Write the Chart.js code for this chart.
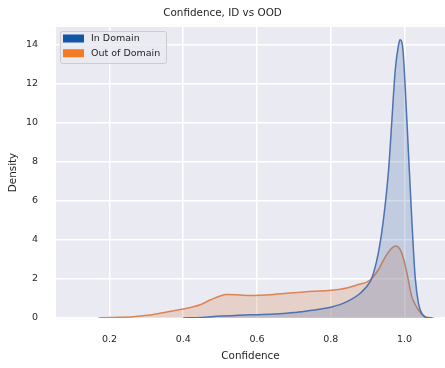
<!DOCTYPE html>
<html>
<head>
<meta charset="utf-8">
<script src="https://cdn.jsdelivr.net/npm/chart.js@4/dist/chart.umd.min.js"></script>
<style>
  html, body { margin: 0; padding: 0; background: #fff; }
  #wrap { width: 445px; height: 368px; position: relative; }
</style>
</head>
<body>
<div id="wrap"><canvas id="graph"></canvas></div>
<script>
// values
const xTicks = [0.2, 0.4, 0.6, 0.8, 1.0];
const yTicks = [0, 2, 4, 6, 8, 10, 12, 14];

const idX = [0.4, 0.45, 0.5, 0.55, 0.6, 0.65, 0.7, 0.735, 0.77, 0.8, 0.844, 0.88, 0.907, 0.916, 0.93, 0.943, 0.957, 0.966, 0.975, 0.984, 0.988, 0.996, 1.002, 1.011, 1.02, 1.029, 1.038, 1.047, 1.056, 1.065, 1.075];
const idY = [0, 0.03, 0.1, 0.14, 0.17, 0.2, 0.28, 0.36, 0.45, 0.55, 0.84, 1.27, 1.86, 2.29, 3.4, 5.03, 7.6, 10.15, 12.7, 14.0, 14.26, 13.74, 11.86, 8.44, 5.03, 2.12, 0.75, 0.24, 0.05, 0.01, 0];

const oodX = [0.17, 0.2, 0.265, 0.31, 0.356, 0.4, 0.446, 0.473, 0.5, 0.518, 0.554, 0.58, 0.645, 0.735, 0.826, 0.871, 0.907, 0.93, 0.943, 0.961, 0.977, 0.985, 0.993, 1.0, 1.007, 1.02, 1.029, 1.038, 1.047, 1.056, 1.065, 1.08];
const oodY = [0, 0.03, 0.07, 0.15, 0.31, 0.46, 0.68, 0.92, 1.13, 1.2, 1.18, 1.16, 1.21, 1.35, 1.47, 1.69, 1.95, 2.5, 2.97, 3.49, 3.69, 3.6, 3.32, 2.85, 2.29, 1.09, 0.7, 0.41, 0.2, 0.07, 0.02, 0];

const font = 'DejaVu Sans';

// legend drawn inside the plot area, seaborn style
const innerLegend = {
  id: 'innerLegend',
  afterDraw(chart) {
    const ctx = chart.ctx;
    const a = chart.chartArea;
    const x0 = a.left + 4, y0 = a.top + 4, w = 106, h = 32;
    ctx.save();
    ctx.beginPath();
    ctx.roundRect(x0 + 0.5, y0 + 0.5, w, h, 2);
    ctx.fillStyle = 'rgba(234,234,242,0.8)';
    ctx.fill();
    ctx.strokeStyle = '#cccccc';
    ctx.lineWidth = 1;
    ctx.stroke();
    ctx.font = '9.5px "' + font + '"';
    ctx.textBaseline = 'middle';
    chart.data.datasets.forEach((ds, i) => {
      const cy = y0 + 7.5 + i * 14.7;
      ctx.fillStyle = ds.legendColor;
      ctx.fillRect(x0 + 3, cy - 4, 21, 8);
      ctx.fillStyle = '#262626';
      ctx.fillText(ds.label, x0 + 31, cy);
    });
    ctx.restore();
  }
};

new Chart(document.getElementById('graph'), {
  type: 'line',
  data: {
    datasets: [
      {
        label: 'In Domain',
        data: idX.map((x, i) => ({x: x, y: idY[i]})),
        borderColor: '#4c72b0',
        backgroundColor: 'rgba(76,114,176,0.25)',
        legendColor: '#1155a5',
        fill: 'origin',
        borderWidth: 1.5,
        pointRadius: 0,
        cubicInterpolationMode: 'monotone'
      },
      {
        label: 'Out of Domain',
        data: oodX.map((x, i) => ({x: x, y: oodY[i]})),
        borderColor: '#dd8452',
        backgroundColor: 'rgba(221,132,82,0.25)',
        legendColor: '#f47a25',
        fill: 'origin',
        borderWidth: 1.5,
        pointRadius: 0,
        cubicInterpolationMode: 'monotone'
      }
    ]
  },
  options: {
    responsive: true,
    maintainAspectRatio: false,
    animation: false,
    layout: { padding: 0 },
    plugins: {
      legend: { display: false },
      tooltip: { enabled: false },
      title: {
        display: true,
        text: 'Confidence, ID vs OOD',
        color: '#262626',
        font: { family: font, size: 10.4, weight: 'normal' },
        padding: { top: 6.76, bottom: 7.76 }
      }
    },
    scales: {
      x: {
        type: 'linear',
        min: 0.055,
        max: 1.11,
        border: { display: false },
        grid: { color: '#ffffff', lineWidth: 1.5, drawTicks: false },
        ticks: {
          color: '#262626',
          padding: 15.6,
          font: { family: font, size: 9.5 },
          callback: v => v.toFixed(1)
        },
        afterBuildTicks: s => { s.ticks = xTicks.map(v => ({value: v})); },
        afterFit: s => { s.height = 50; },
        title: {
          display: true,
          text: 'Confidence',
          color: '#262626',
          font: { family: font, size: 10.4 },
          padding: { top: 0, bottom: 5.76 }
        }
      },
      y: {
        min: 0,
        max: 14.92,
        border: { display: false },
        grid: { color: '#ffffff', lineWidth: 1.5, drawTicks: false },
        ticks: {
          color: '#262626',
          padding: 18,
          font: { family: font, size: 9.5 }
        },
        afterBuildTicks: s => { s.ticks = yTicks.map(v => ({value: v})); },
        afterFit: s => { s.width = 56; },
        title: {
          display: true,
          text: 'Density',
          color: '#262626',
          font: { family: font, size: 10.4 },
          padding: { top: 6.76, bottom: 0 }
        }
      }
    }
  },
  plugins: [
    {
      id: 'bg',
      beforeDraw(chart) {
        const a = chart.chartArea;
        chart.ctx.save();
        chart.ctx.fillStyle = '#eaeaf2';
        chart.ctx.fillRect(a.left, a.top, a.right - a.left, a.bottom - a.top);
        chart.ctx.restore();
      }
    },
    innerLegend
  ]
});
</script>
</body>
</html>
